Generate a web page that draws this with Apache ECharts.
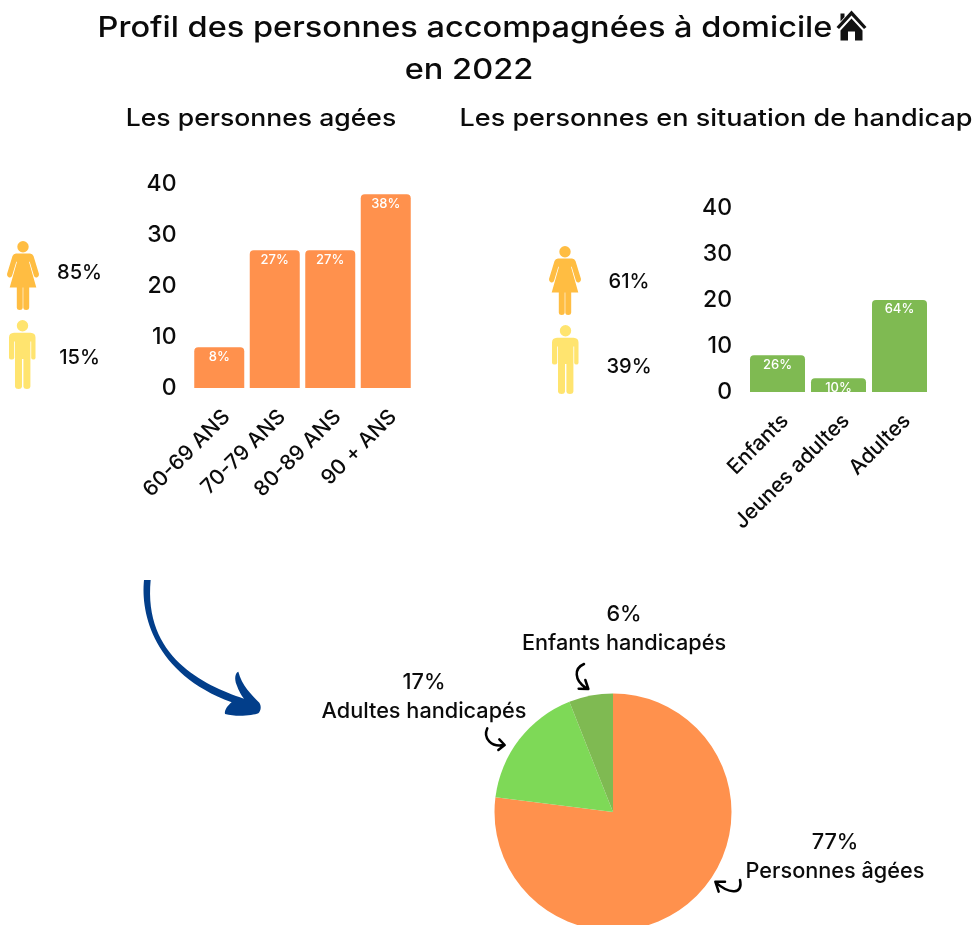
<!DOCTYPE html>
<html><head><meta charset="utf-8">
<style>html,body{margin:0;padding:0;background:#fff}#c{width:976px;height:925px}</style>
<script src="https://cdn.jsdelivr.net/npm/echarts@6/dist/echarts.min.js"></script>
</head><body><div id="c"></div>
<script>
const ageCategories = ['60-69 ANS','70-79 ANS','80-89 ANS','90 + ANS'];
const ageValues = [8,27,27,38];
const ageLabels = ['8%','27%','27%','38%'];
const handiCategories = ['Enfants','Jeunes adultes','Adultes'];
const handiValues = [8,3,20];
const handiLabels = ['26%','10%','64%'];
const pieNames = ['Personnes âgées','Adultes handicapés','Enfants handicapés'];
const pieValues = [77,17,6];
const pieColors = ['#FF914D','#7ED957','#7FBA52'];
const ageGender = ['85%','15%'];
const handiGender = ['61%','39%'];
const FONT = 'Inter';
const ink = '#0b0b0b';

const shapes = {
  woman:'M16 0a5.7 5.7 0 1 1 0 11.4a5.7 5.7 0 1 1 0-11.4Z M9 12.5H23Q25.5 12.5 26.5 15L32 33Q32.3 35.5 30 36.5Q28 36.8 27 35L22.7 20.7L22 20.7L29.3 46.5H22.2V66.5Q22 69 19.2 69Q16.4 69 16.3 66.5V46.5H15.7V66.5Q15.5 69 12.8 69Q9.9 69 9.8 66.5V46.5H2.7L10 20.7L9.3 20.7L5 35Q4 36.8 2 36.5Q-0.3 35.5 0 33L5.5 15Q6.5 12.5 9 12.5Z',
  man:'M13.5 0a5.7 5.7 0 1 1 0 11.4a5.7 5.7 0 1 1 0-11.4Z M5 12.7H21.5Q26.5 13 26.5 17.5V38Q26.3 39.5 24.5 39.5Q22.4 39.5 22.2 38V21.5H21.4V66.5Q21 69 18 69Q14.8 69 14.4 66.5V39H13V66.5Q12.6 69 9.6 69Q6.4 69 6 66.5V21.5H5.2V38Q5 39.5 2.5 39.5Q0.3 39.5 0 38V17.5Q0 13 5 12.7Z',
  house:'M15 0L30 16.5L27.5 18.5L15 5L2.5 18.5L0 16.5Z M15 8L26 20V30H18.5V21H11.5V30H4V20Z M4 3H8V6.5L4 11Z',
  bigArrow:'M72 30C62 130 100 310 335 397C325 405 312 420 315 432C350 442 400 436 415 430C424 420 424 408 418 398C395 375 365 345 355 305C346 308 342 325 350 345C356 362 365 378 372 386C250 345 70 260 92 30Z',
  arrowA:'M312 192C282 205 282 240 318 264 M296 266L325 267L316 240',
  arrowB:'M22 385C8 415 35 442 70 435 M58 418L74 435L55 450',
  arrowC:'M780 840C790 882 750 885 708 848 M735 845L706 845L716 875'
};
Object.keys(shapes).forEach(k => echarts.graphic.registerShape(k, echarts.graphic.extendPath(shapes[k])));

function icon(type, color, x, y){ return {type, x, y, style:{fill:color}, silent:true}; }
function txt(text, x, y, size, sx){
  return {type:'text', x, y, scaleX:sx||1, silent:true, style:{text, x:0, y:0, fill:ink, font:'500 '+size+'px '+FONT, align:'center', verticalAlign:'middle'}};
}
function hand(type){ return {type, x:480, y:600, scaleX:1/3, scaleY:1/3, style:{fill:null, stroke:'#000', lineWidth:7.5, lineCap:'round', lineJoin:'round'}, silent:true}; }

const graphics = [
  txt('Profil des personnes accompagnées à domicile', 465, 28, 29, 1.122),
  txt('en 2022', 469, 70, 29, 1.122),
  txt('Les personnes agées', 261, 118.5, 24, 1.106),
  txt('Les personnes en situation de handicap', 716, 118.5, 24, 1.125),
  icon('house','#111',836.5,10.5),
  icon('woman','#FFBD42',7,241), icon('man','#FFE46F',9,320),
  icon('woman','#FFBD42',549,246), icon('man','#FFE46F',552,325),
  txt(ageGender[0], 79.5, 272.5, 20.5, 0.98), txt(ageGender[1], 79.5, 358, 20.5, 0.98),
  txt(handiGender[0], 629, 282, 20.5, 0.98), txt(handiGender[1], 629, 367, 20.5, 0.98),
  {type:'bigArrow', x:120, y:570, scaleX:1/3, scaleY:1/3, silent:true, style:{fill:'#023E8A'}},
  hand('arrowA'), hand('arrowB'), hand('arrowC')
];

function barOpts(gridIndex, values, labels, color){
  return {type:'bar', xAxisIndex:gridIndex, yAxisIndex:gridIndex, barWidth: gridIndex===0?50:55,
    itemStyle:{color, borderRadius:[4,4,0,0]},
    data: values.map((v,i)=>({value:v,label:{formatter:labels[i]}})),
    label:{show:true, position:'insideTop', distance:3, color:'#fff', fontFamily:FONT, fontSize:13, fontWeight:500}};
}
function xAxis(gridIndex, data){
  return {type:'category', gridIndex, data, axisLine:{show:false}, axisTick:{show:false},
    axisLabel:{rotate:45, margin:18, interval:0, verticalAlign:'top', color:ink, fontFamily:FONT, fontSize:21, fontWeight:500}};
}
function yAxis(gridIndex){
  return {type:'value', gridIndex, min:0, max:40, interval:10, splitLine:{show:false}, axisLine:{show:false}, axisTick:{show:false},
    axisLabel:{margin:15, color:ink, fontFamily:FONT, fontSize:23, fontWeight:500}};
}
const pieLabelPos = [[835,857],[424,697],[624,629]];

const chart = echarts.init(document.getElementById('c'));
chart.setOption({
  animation:false, backgroundColor:'#fff',
  grid:[{left:191.5,top:184,width:222,height:204},{left:747,top:208,width:183,height:184}],
  xAxis:[xAxis(0,ageCategories),xAxis(1,handiCategories)],
  yAxis:[yAxis(0),yAxis(1)],
  series:[
    barOpts(0,ageValues,ageLabels,'#FF914D'),
    barOpts(1,handiValues,handiLabels,'#7FBA52'),
    {type:'pie', center:[613,812], radius:118.5, startAngle:90, clockwise:true,
     data:pieValues.map((v,i)=>({name:pieNames[i],value:v,itemStyle:{color:pieColors[i]}})),
     label:{show:true, formatter:'{d}%\n{b}', color:ink, fontFamily:FONT, fontSize:21.7, fontWeight:500, lineHeight:29, align:'center'},
     labelLine:{show:false},
     labelLayout:(p)=>({x:pieLabelPos[p.dataIndex][0], y:pieLabelPos[p.dataIndex][1], align:'center', verticalAlign:'middle'}),
     emphasis:{disabled:true}}
  ],
  graphic:{elements:graphics}
});
</script></body></html>
